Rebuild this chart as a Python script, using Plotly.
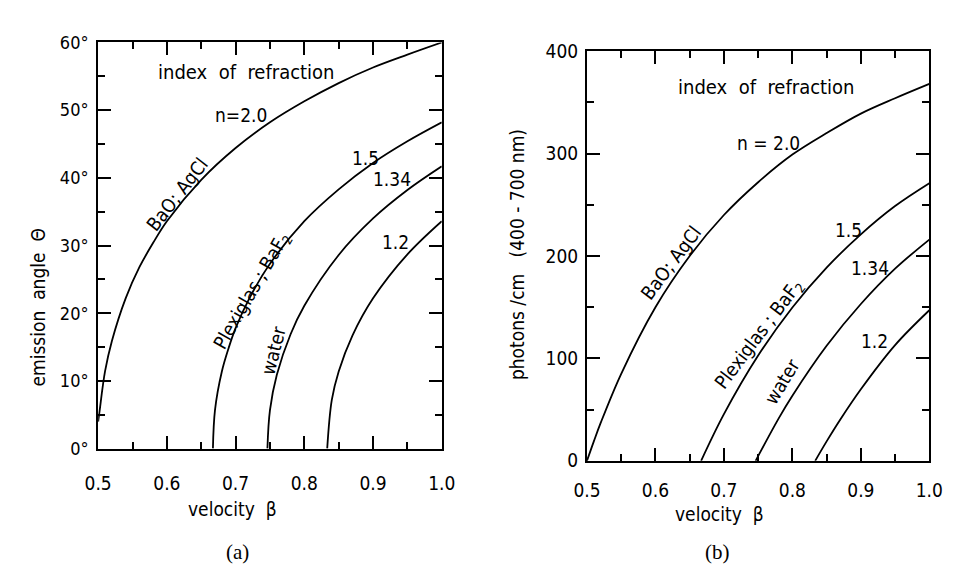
import plotly.graph_objects as go

# ---------------- data ----------------
# (a) emission angle theta [deg] vs velocity beta
beta_a_20 = [0.5, 0.502, 0.51, 0.52, 0.54, 0.56, 0.58, 0.60, 0.65, 0.70, 0.75, 0.80, 0.85, 0.90, 0.95, 1.00]
theta_20 = [4.0, 5.5, 11.4, 15.9, 22.2, 26.8, 30.4, 33.6, 39.7, 44.4, 48.2, 51.3, 54.0, 56.3, 58.2, 60.0]
beta_a_15 = [0.667, 0.670, 0.68, 0.69, 0.70, 0.72, 0.75, 0.80, 0.85, 0.90, 0.95, 1.00]
theta_15 = [0.0, 5.7, 11.4, 14.9, 17.8, 22.2, 27.3, 33.6, 38.3, 42.2, 45.4, 48.2]
beta_a_134 = [0.7463, 0.75, 0.76, 0.78, 0.80, 0.85, 0.90, 0.95, 1.00]
theta_134 = [0.0, 5.7, 10.9, 16.9, 21.1, 28.6, 34.0, 38.2, 41.7]
beta_a_12 = [0.8333, 0.84, 0.85, 0.87, 0.90, 0.95, 1.00]
theta_12 = [0.0, 7.2, 11.4, 16.7, 22.2, 28.7, 33.6]

# (b) photons / cm (400-700 nm) vs velocity beta
beta_b_20 = [0.5, 0.51, 0.52, 0.55, 0.60, 0.65, 0.70, 0.75, 0.80, 0.85, 0.90, 0.95, 1.00]
phot_20 = [0.0, 19.0, 37.0, 85.0, 150.0, 200.0, 240.0, 272.0, 299.0, 320.0, 339.0, 354.0, 368.0]
beta_b_15 = [0.6667, 0.70, 0.75, 0.80, 0.85, 0.90, 0.95, 1.00]
phot_15 = [0.0, 45.6, 102.8, 149.7, 188.6, 221.1, 248.7, 271.0]
beta_b_134 = [0.7463, 0.78, 0.80, 0.85, 0.90, 0.95, 1.00]
phot_134 = [0.0, 41.5, 63.6, 112.3, 153.1, 187.6, 216.0]
beta_b_12 = [0.8333, 0.85, 0.87, 0.90, 0.95, 1.00]
phot_12 = [0.0, 19.0, 40.4, 69.9, 113.0, 147.0]

FONT = "DejaVu Sans Condensed, DejaVu Sans, sans-serif"
LINE = dict(color="black", width=1.8)
W, H = 954, 576

def px_x(px):
    return px / W

def px_y(py):
    return 1 - py / H

fig = go.Figure()
for xs, ys in [(beta_a_20, theta_20), (beta_a_15, theta_15), (beta_a_134, theta_134), (beta_a_12, theta_12)]:
    fig.add_trace(go.Scatter(x=xs, y=ys, mode="lines", line=dict(shape="spline", **LINE),
                             xaxis="x", yaxis="y", showlegend=False, hoverinfo="skip"))
for xs, ys in [(beta_b_20, phot_20), (beta_b_15, phot_15), (beta_b_134, phot_134), (beta_b_12, phot_12)]:
    fig.add_trace(go.Scatter(x=xs, y=ys, mode="lines", line=dict(shape="spline", **LINE),
                             xaxis="x2", yaxis="y2", showlegend=False, hoverinfo="skip"))

def axis_common(size, minor_dtick, **kw):
    d = dict(showgrid=False, zeroline=False, showline=True, linecolor="black", linewidth=2,
             mirror="ticks", ticks="inside", ticklen=13, tickwidth=2, tickcolor="black",
             tickmode="linear",
             tickfont=dict(family=FONT, size=size, color="black"),
             minor=dict(ticks="inside", ticklen=7, tickwidth=2, tickcolor="black",
                        dtick=minor_dtick, showgrid=False))
    d.update(kw)
    return d

fig.update_layout(
    width=W, height=H, autosize=False,
    margin=dict(l=0, r=0, t=0, b=0),
    paper_bgcolor="white", plot_bgcolor="white",
    xaxis=axis_common(19, 0.05, domain=[px_x(86.7), px_x(440.7)], range=[0.5, 1.0], anchor="y",
                      tick0=0.5, dtick=0.1, tickformat=".1f", ticklabelstandoff=17),
    yaxis=axis_common(18, 5, domain=[px_y(455), px_y(32.7)], range=[0, 60], anchor="x",
                      tick0=0, dtick=10, ticksuffix="°", ticklabelstandoff=4),
    xaxis2=axis_common(19, 0.05, domain=[px_x(590.3), px_x(943)], range=[0.5, 1.0], anchor="y2",
                       tick0=0.5, dtick=0.1, tickformat=".1f", ticklabelstandoff=11),
    yaxis2=axis_common(19, 50, domain=[px_y(467.7), px_y(41.7)], range=[0, 400], anchor="x2",
                       tick0=0, dtick=100, ticklabelstandoff=3),
)

ann = []
def t(text, x, y, xref, yref, size=19, angle=0, family=FONT):
    ann.append(dict(text=text, x=x, y=y, xref=xref, yref=yref, showarrow=False,
                    textangle=angle, font=dict(family=family, size=size, color="black"),
                    xanchor="center", yanchor="middle"))

# panel (a) labels
t("index  of  refraction", 0.7165, 55.7, "x", "y", size=20)
t("n=2.0", 0.708, 49.3, "x", "y")
t("BaO; AgCl", 0.615, 37.6, "x", "y", angle=-52)
t("1.5", 0.889, 43.0, "x", "y")
t("1.34", 0.928, 39.8, "x", "y")
t("1.2", 0.933, 30.5, "x", "y")
t("Plexiglas ; BaF<sub>2</sub>", 0.724, 23.2, "x", "y", angle=-60)
t("water", 0.7555, 14.5, "x", "y", angle=-76)
# panel (b) labels
t("index  of  refraction", 0.762, 365, "x2", "y2", size=20)
t("n = 2.0", 0.765, 310.5, "x2", "y2")
t("BaO; AgCl", 0.622, 193, "x2", "y2", angle=-53)
t("1.5", 0.882, 225.7, "x2", "y2")
t("1.34", 0.913, 188.5, "x2", "y2")
t("1.2", 0.920, 117, "x2", "y2")
t("Plexiglas ; BaF<sub>2</sub>", 0.752, 123, "x2", "y2", angle=-53)
t("water", 0.785, 78, "x2", "y2", angle=-59)

# axis titles and captions, placed by window pixel
def p(text, px, py, angle=0, size=19, family=FONT):
    ann.append(dict(text=text, x=px_x(px), y=px_y(py), xref="paper", yref="paper",
                    showarrow=False, textangle=angle, xanchor="center", yanchor="middle",
                    font=dict(family=family, size=size, color="black")))

p("velocity  β", 225, 518)
p("emission  angle  Θ", 25, 308, angle=-90)
p("velocity  β", 727, 523)
p("photons /cm   (400 - 700 nm)", 519, 253, angle=-90)
p("(a)", 230, 563, size=21, family="Liberation Serif, DejaVu Serif, serif")
p("(b)", 725, 563, size=21, family="Liberation Serif, DejaVu Serif, serif")

fig.update_layout(annotations=ann)
fig.write_html("out.html")
